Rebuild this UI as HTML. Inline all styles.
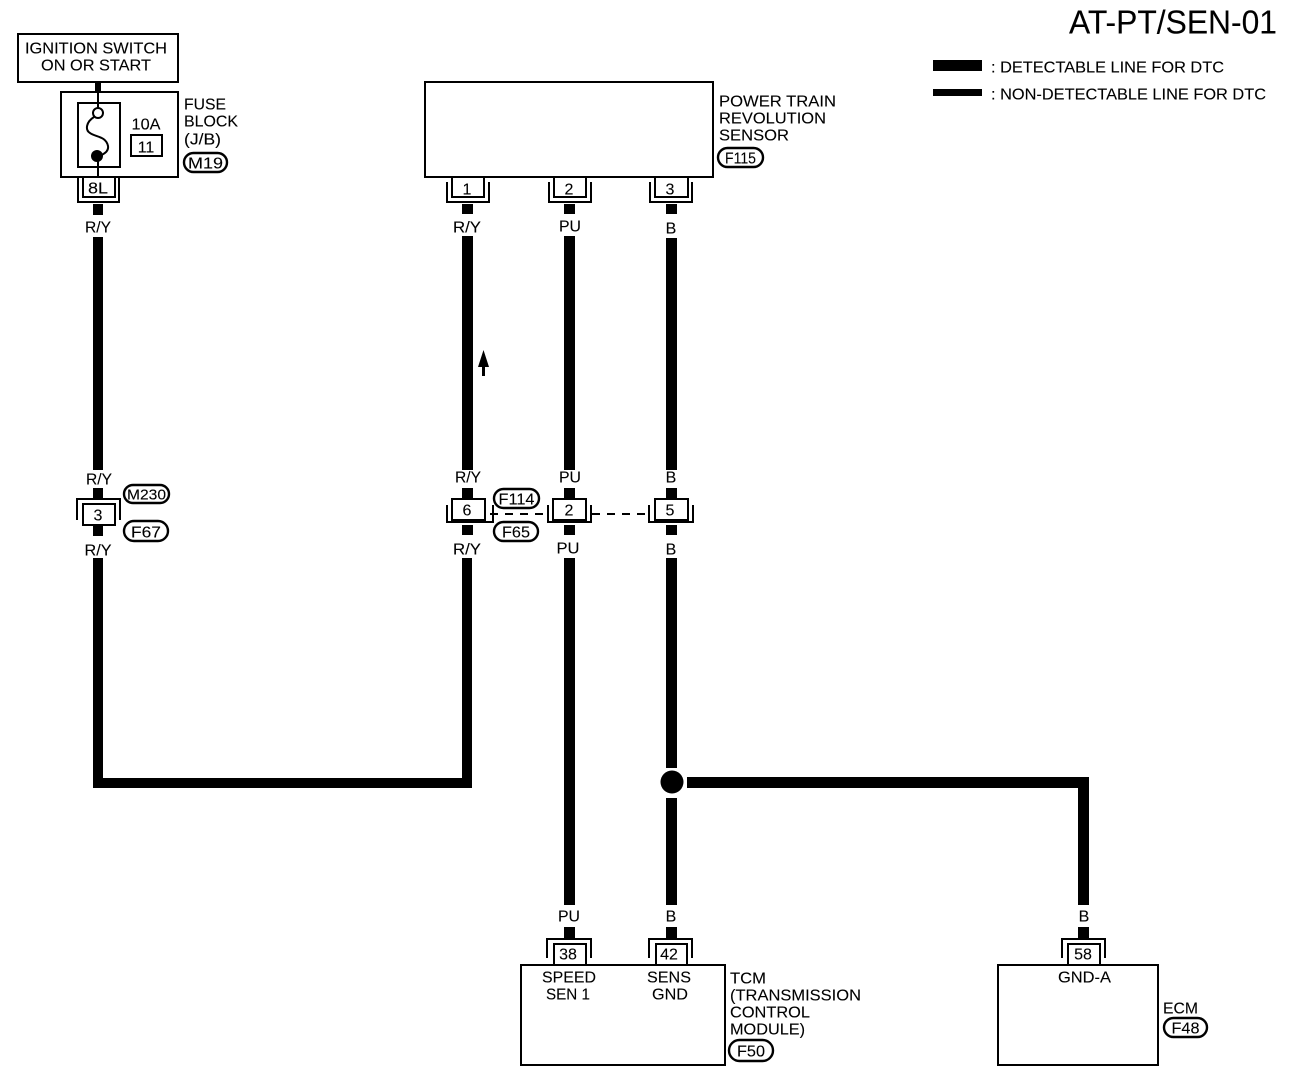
<!DOCTYPE html>
<html>
<head>
<meta charset="utf-8">
<style>
html,body{margin:0;padding:0;background:#fff;}
svg{display:block;}
text{font-family:"Liberation Sans",sans-serif;font-size:16px;fill:#000;stroke:#000;stroke-width:.1px;transform:translateY(.5px);}
.c{text-anchor:middle;}
.o{fill:none;stroke:#000;stroke-width:2;}
.ov{fill:#fff;stroke:#000;stroke-width:2.4;}
.b{stroke:#000;stroke-width:2;fill:none;shape-rendering:crispEdges;}
</style>
</head>
<body>
<svg width="1312" height="1076" viewBox="0 0 1312 1076" xmlns="http://www.w3.org/2000/svg">
<rect width="1312" height="1076" fill="#fff"/>

<!-- Title and legend -->
<text x="1069" y="33" style="font-size:33px" textLength="208" lengthAdjust="spacingAndGlyphs">AT-PT/SEN-01</text>
<rect x="933" y="60" width="49" height="11" fill="#000"/>
<rect x="933" y="89" width="49" height="7" fill="#000"/>
<text x="991" y="72" textLength="233" lengthAdjust="spacingAndGlyphs">: DETECTABLE LINE FOR DTC</text>
<text x="991" y="99" textLength="275" lengthAdjust="spacingAndGlyphs">: NON-DETECTABLE LINE FOR DTC</text>

<!-- Ignition switch -->
<rect class="o" x="18" y="34" width="160" height="48"/>
<text x="25" y="53" textLength="142" lengthAdjust="spacingAndGlyphs">IGNITION SWITCH</text>
<text x="41" y="70" textLength="110" lengthAdjust="spacingAndGlyphs">ON OR START</text>
<rect x="95" y="82" width="6" height="10" fill="#000"/>

<!-- Fuse block -->
<rect class="o" x="61" y="92" width="117" height="85"/>
<rect class="o" x="78" y="103" width="42" height="64"/>
<line class="o" x1="98" y1="92" x2="98" y2="108"/>
<circle class="o" cx="98" cy="113" r="5"/>
<path class="o" d="M94 117 C86 122 85 130 90 133 C95 137 106 136 108 146 C109 152 103 154 100 156"/>
<circle cx="97" cy="156" r="6" fill="#000"/>
<line class="o" x1="98" y1="160" x2="98" y2="177"/>
<text class="c" x="146" y="129" textLength="29" lengthAdjust="spacingAndGlyphs">10A</text>
<rect class="o" x="131" y="135" width="31" height="21"/>
<text class="c" x="146" y="152">11</text>
<text x="184" y="109" textLength="42" lengthAdjust="spacingAndGlyphs">FUSE</text>
<text x="184" y="126" textLength="54" lengthAdjust="spacingAndGlyphs">BLOCK</text>
<text x="184" y="144" textLength="37" lengthAdjust="spacingAndGlyphs">(J/B)</text>
<rect class="ov" x="184" y="153" width="43" height="19" rx="9.5"/>
<text class="c" x="205.500" y="168" textLength="35" lengthAdjust="spacingAndGlyphs">M19</text>

<!-- Connector 8L -->
<path class="b" d="M78 177V202H119V177"/>
<path class="b" d="M83 177V197H115V177"/>
<text class="c" x="98" y="193" textLength="20" lengthAdjust="spacingAndGlyphs">8L</text>
<rect x="93" y="204" width="10" height="11" fill="#000"/>
<text class="c" x="98" y="232" textLength="26" lengthAdjust="spacingAndGlyphs">R/Y</text>
<rect x="93" y="237" width="10" height="233" fill="#000"/>
<text class="c" x="99" y="484" textLength="26" lengthAdjust="spacingAndGlyphs">R/Y</text>
<rect x="93" y="488" width="10" height="10" fill="#000"/>

<!-- Connector 3 -->
<path class="b" d="M77 520V499H120V520"/>
<rect class="o" x="83" y="504" width="32" height="21"/>
<text class="c" x="98" y="520">3</text>
<rect class="ov" x="124" y="485" width="45" height="18" rx="9"/>
<text class="c" x="146.500" y="499" style="font-size:15px" textLength="39" lengthAdjust="spacingAndGlyphs">M230</text>
<rect class="ov" x="124" y="521" width="44" height="20" rx="10"/>
<text class="c" x="146" y="537" textLength="30" lengthAdjust="spacingAndGlyphs">F67</text>
<rect x="93" y="526" width="10" height="10" fill="#000"/>
<text class="c" x="98" y="555" textLength="27" lengthAdjust="spacingAndGlyphs">R/Y</text>

<!-- Harness bottom-left -->
<path d="M93 558H103V778H462V558H472V788H93Z" fill="#000"/>

<!-- Power train revolution sensor -->
<rect class="o" x="425" y="82" width="288" height="95"/>
<text x="719" y="106" textLength="117" lengthAdjust="spacingAndGlyphs">POWER TRAIN</text>
<text x="719" y="123" textLength="107" lengthAdjust="spacingAndGlyphs">REVOLUTION</text>
<text x="719" y="140" textLength="70" lengthAdjust="spacingAndGlyphs">SENSOR</text>
<rect class="ov" x="718" y="148" width="45" height="19" rx="9.5"/>
<text class="c" x="740.500" y="163" textLength="31" lengthAdjust="spacingAndGlyphs">F115</text>

<!-- Top connectors -->
<path class="b" d="M447 182V202H489V182"/>
<path class="b" d="M452 177V197H484V177"/>
<text class="c" x="467" y="194">1</text>
<path class="b" d="M549 182V202H591V182"/>
<path class="b" d="M554 177V197H586V177"/>
<text class="c" x="569" y="194">2</text>
<path class="b" d="M650 182V202H692V182"/>
<path class="b" d="M655 177V197H688V177"/>
<text class="c" x="670" y="194">3</text>

<rect x="462" y="204" width="11" height="10" fill="#000"/>
<rect x="564" y="204" width="11" height="10" fill="#000"/>
<rect x="666" y="204" width="11" height="10" fill="#000"/>
<text class="c" x="467" y="232" textLength="28" lengthAdjust="spacingAndGlyphs">R/Y</text>
<text class="c" x="570" y="231" textLength="22" lengthAdjust="spacingAndGlyphs">PU</text>
<text class="c" x="671" y="233">B</text>

<!-- Vertical wires top -->
<rect x="462" y="236" width="11" height="234" fill="#000"/>
<rect x="564" y="236" width="11" height="234" fill="#000"/>
<rect x="666" y="238" width="11" height="232" fill="#000"/>

<!-- Direction arrow -->
<path d="M483.500 350L489 367H485V376H482V367H478Z" fill="#000"/>

<text class="c" x="468" y="482" textLength="26" lengthAdjust="spacingAndGlyphs">R/Y</text>
<text class="c" x="570" y="482" textLength="22" lengthAdjust="spacingAndGlyphs">PU</text>
<text class="c" x="671" y="482">B</text>
<rect x="462" y="488" width="11" height="10" fill="#000"/>
<rect x="564" y="488" width="11" height="10" fill="#000"/>
<rect x="666" y="488" width="11" height="10" fill="#000"/>

<!-- Middle connectors -->
<path class="b" d="M447 505V522H493V505"/>
<rect class="o" x="452" y="499" width="33" height="21"/>
<text class="c" x="467" y="515">6</text>
<path class="b" d="M548 505V522H591V505"/>
<rect class="o" x="553" y="499" width="33" height="21"/>
<text class="c" x="569" y="515">2</text>
<path class="b" d="M649 505V522H693V505"/>
<rect class="o" x="655" y="499" width="33" height="21"/>
<text class="c" x="670" y="515">5</text>

<path d="M490 514H548M592 514H648" stroke="#000" stroke-width="2" stroke-dasharray="8 7" fill="none"/>

<rect class="ov" x="494" y="489" width="45" height="19" rx="9.500"/>
<text class="c" x="516.500" y="504" textLength="36" lengthAdjust="spacingAndGlyphs">F114</text>
<rect class="ov" x="494" y="522" width="44" height="19" rx="9.500"/>
<text class="c" x="516" y="537" textLength="28" lengthAdjust="spacingAndGlyphs">F65</text>

<rect x="462" y="525" width="11" height="10" fill="#000"/>
<rect x="564" y="525" width="11" height="10" fill="#000"/>
<rect x="666" y="525" width="11" height="10" fill="#000"/>
<text class="c" x="467" y="554" textLength="28" lengthAdjust="spacingAndGlyphs">R/Y</text>
<text class="c" x="568" y="553" textLength="23" lengthAdjust="spacingAndGlyphs">PU</text>
<text class="c" x="671" y="554">B</text>

<!-- Vertical wires lower -->
<rect x="564" y="558" width="11" height="347" fill="#000"/>
<rect x="666" y="558" width="11" height="210" fill="#000"/>
<rect x="666" y="798" width="11" height="107" fill="#000"/>
<path d="M687 777H1089V905H1078V788H687Z" fill="#000"/>
<circle cx="672" cy="782" r="11.500" fill="#000"/>

<text class="c" x="569" y="921" textLength="22" lengthAdjust="spacingAndGlyphs">PU</text>
<text class="c" x="671" y="921">B</text>
<text class="c" x="1084" y="921">B</text>
<rect x="564" y="927" width="11" height="11" fill="#000"/>
<rect x="666" y="927" width="11" height="11" fill="#000"/>
<rect x="1078" y="927" width="11" height="11" fill="#000"/>

<!-- Bottom connectors -->
<path class="b" d="M547 958V939H591V958"/>
<path class="b" d="M554 965V944H586V965"/>
<text class="c" x="568" y="959">38</text>
<path class="b" d="M649 958V939H692V958"/>
<path class="b" d="M656 965V944H687V965"/>
<text class="c" x="669" y="959">42</text>
<path class="b" d="M1062 958V939H1105V958"/>
<path class="b" d="M1068 965V944H1100V965"/>
<text class="c" x="1083" y="959">58</text>

<!-- TCM -->
<rect class="o" x="521" y="965" width="204" height="100"/>
<text x="542" y="982" textLength="54" lengthAdjust="spacingAndGlyphs">SPEED</text>
<text x="546" y="999" textLength="44" lengthAdjust="spacingAndGlyphs">SEN 1</text>
<text x="647" y="982" textLength="44" lengthAdjust="spacingAndGlyphs">SENS</text>
<text x="652" y="999" textLength="36" lengthAdjust="spacingAndGlyphs">GND</text>
<text x="730" y="983" textLength="36" lengthAdjust="spacingAndGlyphs">TCM</text>
<text x="730" y="1000" textLength="131" lengthAdjust="spacingAndGlyphs">(TRANSMISSION</text>
<text x="730" y="1017" textLength="80" lengthAdjust="spacingAndGlyphs">CONTROL</text>
<text x="730" y="1034" textLength="75" lengthAdjust="spacingAndGlyphs">MODULE)</text>
<rect class="ov" x="729" y="1040" width="44" height="21" rx="10.500"/>
<text class="c" x="751" y="1056" textLength="28" lengthAdjust="spacingAndGlyphs">F50</text>

<!-- ECM -->
<rect class="o" x="998" y="965" width="160" height="100"/>
<text x="1058" y="982" textLength="53" lengthAdjust="spacingAndGlyphs">GND-A</text>
<text x="1163" y="1013" textLength="35" lengthAdjust="spacingAndGlyphs">ECM</text>
<rect class="ov" x="1164" y="1018" width="43" height="19" rx="9.500"/>
<text class="c" x="1185.500" y="1033" textLength="28" lengthAdjust="spacingAndGlyphs">F48</text>
</svg>
</body>
</html>
